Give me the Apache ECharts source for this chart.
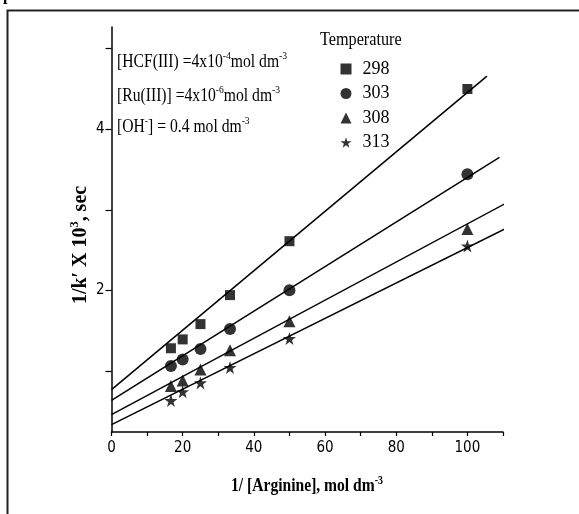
<!DOCTYPE html>
<html><head><meta charset="utf-8">
<script src="https://cdn.jsdelivr.net/npm/echarts@6/dist/echarts.min.js"></script>
<style>html,body{margin:0;padding:0;background:#fff}#c{width:579px;height:514px}</style>
</head><body><div id="c"></div>
<script>
var xValues = [16.7, 20, 25, 33.3, 50, 100];
var names = ['298', '303', '308', '313'];
var k298 = [1.28, 1.39, 1.58, 1.94, 2.61, 4.50];
var k303 = [1.06, 1.14, 1.27, 1.52, 2.00, 3.44];
var k308 = [0.81, 0.88, 1.015, 1.255, 1.615, 2.76];
var k313 = [0.63, 0.74, 0.85, 1.04, 1.40, 2.55];
// fitted lines: [x0, y0, x1, y1]
var fit298 = [0, 0.766, 105.5, 4.66];
var fit303 = [0, 0.634, 109, 3.65];
var fit308 = [0, 0.456, 111.6, 3.10];
var fit313 = [0, 0.332, 111.6, 2.786];
var xTicks = [0, 20, 40, 60, 80, 100];
var yTicks = [1, 2, 3, 4, 5];
var yLabels = [2, 4];

var STAR = 'path://M50,0 L61.8,35.3 L99,35.3 L69,57.3 L80.4,92.7 L50,70.8 L19.6,92.7 L31,57.3 L1,35.3 L38.2,35.3 Z';
var symbols = ['rect', 'circle', 'triangle', STAR];
var sizes = [10, 12, 12, 13];
var sets = [k298, k303, k308, k313];
var fits = [fit298, fit303, fit308, fit313];

var series = [];
for (var i = 0; i < 4; i++) {
  var f = fits[i];
  series.push({
    type: 'line', name: 'fit' + names[i], data: [[f[0], f[1]], [f[2], f[3]]],
    symbol: 'none', clip: false, silent: true,
    lineStyle: {color: '#000', width: 1.5}
  });
}
for (var i = 0; i < 4; i++) {
  series.push({
    type: 'scatter', name: names[i],
    data: xValues.map(function (x, j) { return [x, sets[i][j]]; }),
    symbol: symbols[i], symbolSize: sizes[i],
    itemStyle: {color: '#000'}
  });
}

var serif = 'Liberation Serif';
var narrow = '"Liberation Sans Narrow", "DejaVu Sans Condensed", "Liberation Sans"';
function richStyle(bold, size) {
  var w = bold ? 'bold' : 'normal';
  return {
    n: {fontFamily: serif, fontWeight: w, fontSize: size, fill: '#000', verticalAlign: 'bottom'},
    s: {fontFamily: serif, fontWeight: w, fontSize: Math.round(size * 0.62), fill: '#000', verticalAlign: 'top', padding: [0, 0, Math.round(size * 0.48), 0]}
  };
}
var chart = echarts.init(document.getElementById('c'));
chart.setOption({
  backgroundColor: '#fff',
  animation: false,
  grid: {left: 111.5, right: 76, top: 27, bottom: 82},
  legend: {
    orient: 'vertical', left: 340.5, top: 60, itemGap: 6.5, padding: 0,
    itemWidth: 11, itemHeight: 11,
    data: names,
    textStyle: {fontFamily: serif, fontSize: 18, color: '#000', padding: [0, 0, 0, 6]}
  },
  xAxis: {
    type: 'value', min: 0, max: 110, interval: 10,
    axisLine: {lineStyle: {color: '#000', width: 1.5}},
    axisTick: {inside: false, length: 4, lineStyle: {color: '#000', width: 1.2}},
    axisLabel: {
      customValues: xTicks,
      fontFamily: narrow, fontSize: 15, color: '#000', margin: 9
    },
    splitLine: {show: false}
  },
  yAxis: {
    type: 'value', min: 0.24, max: 5.27,
    axisLine: {show: true, lineStyle: {color: '#000', width: 1.5}},
    axisTick: {show: true, customValues: yTicks, length: 6, lineStyle: {color: '#000', width: 1.2}},
    axisLabel: {
      customValues: yLabels,
      fontFamily: narrow, fontSize: 15, color: '#000', margin: 7
    },
    splitLine: {show: false}
  },
  series: series,
  graphic: [
    {type: 'rect', shape: {x: 7.5, y: 10.5, width: 600, height: 600},
     style: {fill: 'none', stroke: '#222', lineWidth: 2}, silent: true, z: -1},
    {type: 'text', left: 3, top: -12, style: {text: 'p', font: 'bold 16px "Liberation Serif"', fill: '#000'}},
    {type: 'text', x: 320, y: 31, scaleX: 0.9,
     style: {text: 'Temperature', font: '18px "Liberation Serif"', fill: '#000'}},
    {type: 'text', x: 117, y: 51, scaleX: 0.87,
     style: {text: '{n|[HCF(III) =4x10}{s|-4}{n|mol dm}{s|-3}', rich: richStyle(false, 18)}},
    {type: 'text', x: 117, y: 85, scaleX: 0.87,
     style: {text: '{n|[Ru(III)] =4x10}{s|-6}{n|mol dm}{s|-3}', rich: richStyle(false, 18)}},
    {type: 'text', x: 117, y: 116, scaleX: 0.87,
     style: {text: '{n|[OH}{s|-}{n|] = 0.4 mol dm}{s|-3}', rich: richStyle(false, 18)}},
    {type: 'text', x: 307, y: 485, scaleX: 0.82,
     style: {text: '{n|1/ [Arginine], mol dm}{s|-3}', align: 'center', verticalAlign: 'middle', rich: richStyle(true, 19)}},
    {type: 'text', x: 80, y: 245, rotation: Math.PI / 2, scaleX: 0.95,
     style: {text: '{n|1/k\u2032 X 10}{s|3}{n|, sec}', align: 'center', verticalAlign: 'middle', rich: richStyle(true, 21)}}
  ]
});
</script></body></html>
